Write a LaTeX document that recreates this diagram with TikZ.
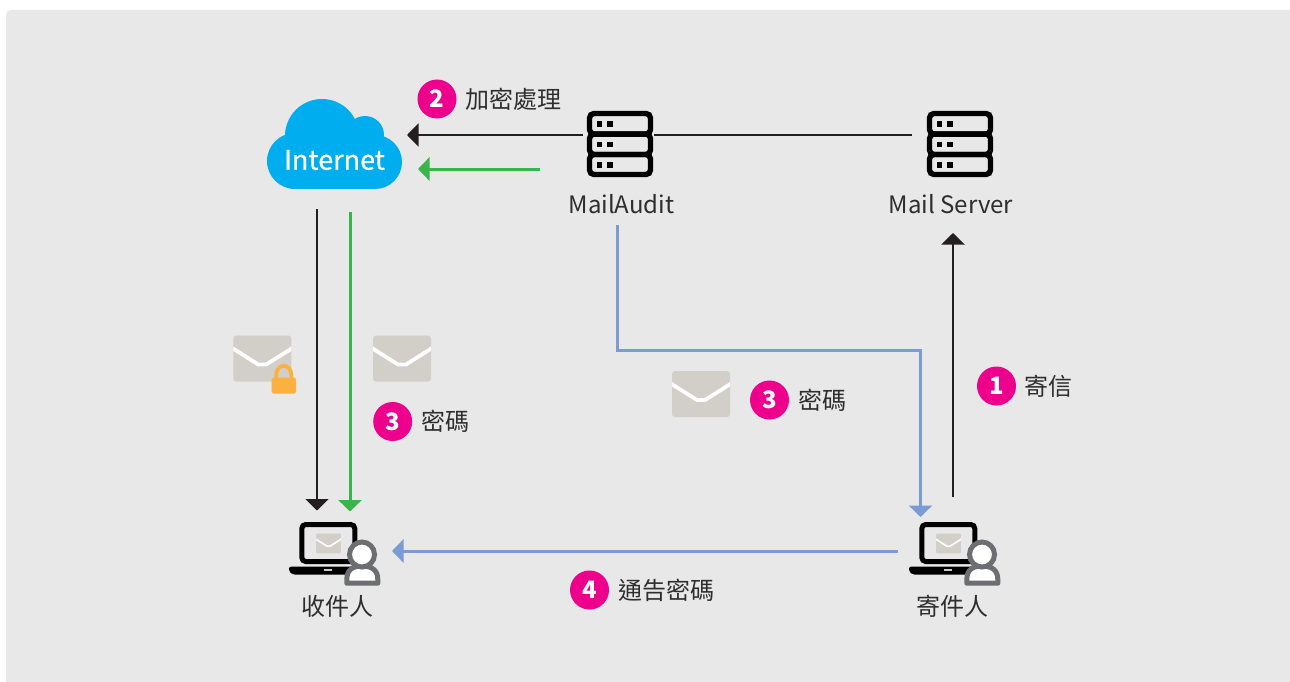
\documentclass[tikz,border=0pt]{standalone}
\usepackage{fontspec}
\setmainfont{Noto Sans CJK TC}
\usetikzlibrary{arrows.meta,calc}
\definecolor{panelbg}{HTML}{E8E8E8}
\definecolor{inkc}{HTML}{231F20}
\definecolor{textc}{HTML}{2E2E2E}
\definecolor{greenc}{HTML}{39B54A}
\definecolor{bluec}{HTML}{7B9BD5}
\definecolor{skyc}{HTML}{00AEEF}
\definecolor{pinkc}{HTML}{EC008C}
\definecolor{envc}{HTML}{D2CEC8}
\definecolor{lockc}{HTML}{FBB040}
\definecolor{grayc}{HTML}{6D6E71}
\tikzset{
  lbl/.style={inner sep=0pt,text=textc,font=\fontsize{24}{28}\selectfont},
  badge/.style={circle,fill=pinkc,minimum size=39pt,inner sep=0pt,text=white,font=\fontsize{24}{28}\selectfont\bfseries},
  iconbox/.style={inner sep=0pt,draw=none},
  blackline/.style={draw=inkc,line width=2.2pt},
  greenline/.style={draw=greenc,line width=3pt},
  blueline/.style={draw=bluec,line width=3pt},
  headtip/.style={-{Triangle[length=11.5pt,width=23pt]}},
}
\newcommand{\servericon}[2]{%
  \begin{scope}[shift={(#1,#2)}]
    \foreach \ya/\yb in {-30.5/-9.9,-9.9/10.5,10.5/30.5}{
      \draw[black,line width=5.4pt,rounded corners=4.5pt] (-30.5,\ya) rectangle (30.5,\yb);
    }
    \foreach \yc in {-20,0.5,21}{
      \fill[black] (-23.5,\yc-2.9) rectangle +(5.8,5.8);
      \fill[black] (-12.6,\yc-2.9) rectangle +(5.8,5.8);
    }
  \end{scope}}
\newcommand{\envicon}[3]{%
  \begin{scope}[shift={(#1,#2)},scale=#3]
    \fill[envc,rounded corners=3pt*#3] (-29,-23) rectangle (29,23);
    \begin{scope}
      \clip[rounded corners=3pt*#3] (-29,-23) rectangle (29,23);
      \draw[white,line width=3.8pt*#3,line join=round] (-31,-11) -- (-4,6) -- (4,6) -- (31,-11);
    \end{scope}
  \end{scope}}
\newcommand{\usericon}[2]{%
  \begin{scope}[shift={(#1,#2)}]
    \draw[black,line width=5pt,rounded corners=4pt] (12.8,-24) rectangle (65.8,13);
    \fill[black,rounded corners=2pt] (0,18.2) -- (76,18.2) -- (76,26.2) -- (4,26.2) -- (0,23) -- cycle;
    \fill[panelbg!70!gray] (35,20.4) rectangle (43,22.4);
    \envicon{39.5}{-5}{0.43}
    \draw[grayc,line width=5pt,fill=white,line join=round] (57.8,34.7) -- (57.8,31) .. controls (57.8,21) and (64,17.5) .. (73,17.5) .. controls (82,17.5) and (88.8,21) .. (88.8,31) -- (88.8,34.7) -- cycle;
    \draw[grayc,line width=5pt,fill=white] (73,6) circle (12.5);
  \end{scope}}
\begin{document}
\begin{tikzpicture}[x=1pt,y=-1pt]
\useasboundingbox (0,0) rectangle (1290,682);
\fill[white] (0,0) rectangle (1290,682);
\fill[panelbg] (6,682) -- (6,15) arc[start angle=180,end angle=90,x radius=5,y radius=-5] -- (1290,10) -- (1290,682) -- cycle;

% cloud
\fill[skyc] (322,136) circle (37) (365,135) circle (19) (295,161) circle (28) (375,162) circle (27);
\fill[skyc] (295,140) rectangle (375,189);
\node[iconbox,text=white,font=\fontsize{27}{30}\selectfont\addfontfeature{FakeBold=0.3}] (internet) at (334.5,160) {Internet};
\node[iconbox,minimum width=135pt,minimum height=90pt] (cloud) at (334.5,144) {};

% servers
\servericon{620}{144}
\servericon{960}{144}
\node[iconbox,minimum width=74pt,minimum height=66pt] (audit) at (620,144) {};
\node[iconbox,minimum width=66pt,minimum height=66pt] (server) at (960,144) {};
\node[lbl] (auditlbl) at (621.5,204) {MailAudit};
\node[lbl] (serverlbl) at (951,204) {Mail Server};

% envelopes and lock
\envicon{262.3}{358.5}{1}
\envicon{402}{358.5}{1}
\envicon{701}{394}{1}
\fill[lockc,rounded corners=1.5pt] (271.7,377.7) rectangle (296,393.7);
\draw[lockc,line width=3.8pt] (276.2,379) -- (276.2,375) arc[start angle=180,end angle=360,x radius=7.6,y radius=9.2] -- (291.4,379);

% people
\usericon{289}{548.5}
\usericon{909}{548.5}
\node[iconbox,minimum width=92pt,minimum height=64pt] (recv) at (335,554) {};
\node[iconbox,minimum width=92pt,minimum height=64pt] (send) at (955,554) {};
\node[lbl] (recvlbl) at (337.5,606) {收件人};
\node[lbl] (sendlbl) at (952.5,606) {寄件人};

% connector ends
\coordinate (auditW) at ($(audit.west)+(0,-9)$);
\coordinate (auditE) at ($(audit.east)+(-3,-9)$);
\coordinate (auditG) at (540,169);
\coordinate (auditS) at (617,225);
\coordinate (serverW) at (912,135);
\coordinate (serverS) at (953,233);
\coordinate (cloudE) at (407,135);
\coordinate (cloudG) at (418,169);
\coordinate (cloudK) at (317,209);
\coordinate (cloudN) at (350,212);
\coordinate (recvK) at (317,510.5);
\coordinate (recvG) at (350,511.5);
\coordinate (recvE) at (392,551);
\coordinate (sendW) at (898,551);
\coordinate (sendN) at (953,497);
\coordinate (sendT) at (920.5,517);

% connectors
\draw[blackline,headtip] (auditW) -- (cloudE);
\draw[greenline,headtip] (auditG) -- (cloudG);
\draw[blackline] (auditE) -- (serverW);
\draw[blackline,headtip] (sendN) -- (serverS);
\draw[blackline,headtip] (cloudK) -- (recvK);
\draw[greenline,headtip] (cloudN) -- (recvG);
\draw[blueline,headtip] (auditS) |- (sendT |- 0,350) -- (sendT);
\draw[blueline,headtip] (sendW) -- (recvE);

% badges and labels
\node[badge] (b2) at (437,99) {2};
\node[lbl,anchor=west] (t2) at (465,99) {加密處理};
\node[badge] (b3a) at (392.7,421.5) {3};
\node[lbl,anchor=west] (t3a) at (421,421.5) {密碼};
\node[badge] (b3b) at (769.5,400) {3};
\node[lbl,anchor=west] (t3b) at (798,400) {密碼};
\node[badge] (b1) at (996.5,386) {1};
\node[lbl,anchor=west] (t1) at (1024,386) {寄信};
\node[badge] (b4) at (589.5,590) {4};
\node[lbl,anchor=west] (t4) at (618,590) {通告密碼};
\end{tikzpicture}
\end{document}
